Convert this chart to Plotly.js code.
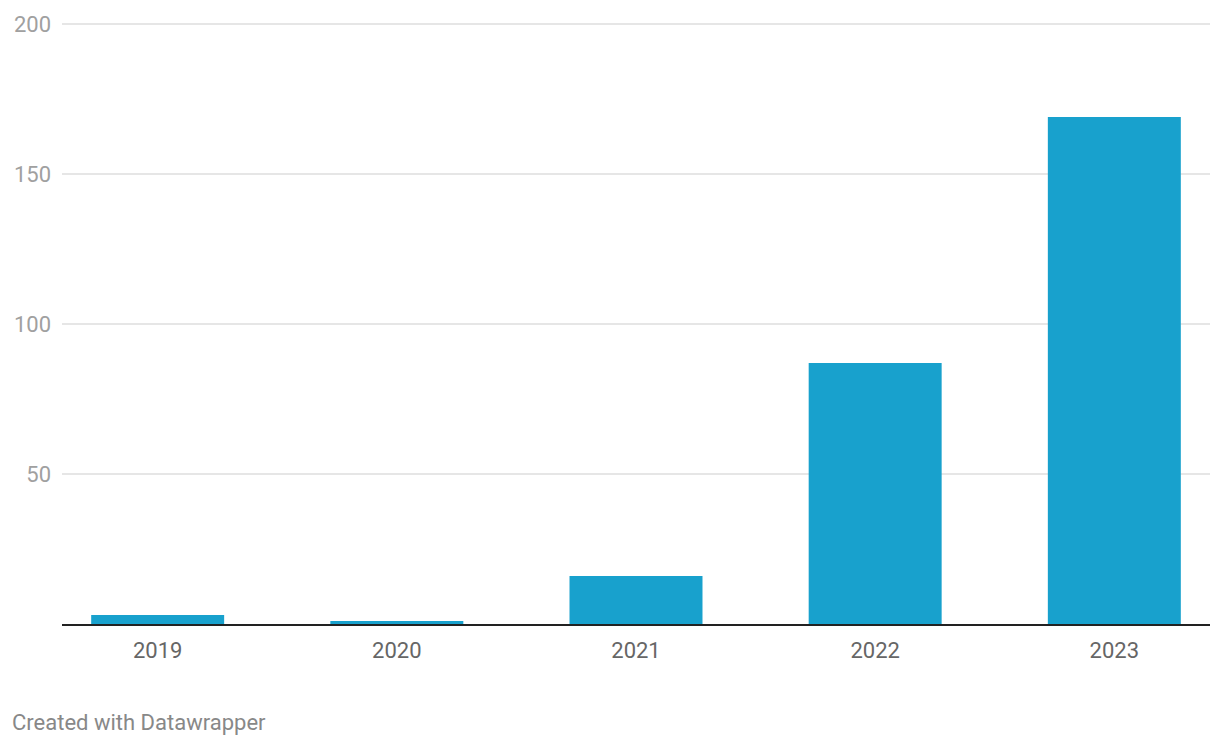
<!DOCTYPE html>
<html>
<head>
<meta charset="utf-8">
<script src="https://cdn.plot.ly/plotly-3.0.1.min.js"></script>
<style>
  html, body { margin: 0; padding: 0; background: #fff; }
  #chart { width: 1220px; height: 746px; }
</style>
</head>
<body>
<div id="chart"></div>
<script>
const years = ["2019", "2020", "2021", "2022", "2023"];
const values = [3, 1, 16, 87, 169];
const yTicks = [50, 100, 150, 200];
const footerText = "Created with Datawrapper";

const trace = {
  type: "bar",
  x: years,
  y: values,
  marker: { color: "#18a1cd" },
  hoverinfo: "x+y"
};

const layout = {
  width: 1220,
  height: 746,
  margin: { l: 62, r: 10, t: 21, b: 122 },
  paper_bgcolor: "#ffffff",
  plot_bgcolor: "#ffffff",
  font: { family: "Roboto, sans-serif" },
  bargap: 0.444,
  showlegend: false,
  xaxis: {
    type: "category",
    range: [-0.4, 4.4],
    showgrid: false,
    zeroline: false,
    showline: true,
    linecolor: "#222222",
    linewidth: 2,
    ticks: "",
    tickfont: { size: 22, color: "#666666", family: "Roboto, sans-serif" },
    ticklabelstandoff: 6,
    fixedrange: true
  },
  yaxis: {
    range: [0, 201],
    tickvals: yTicks,
    ticktext: yTicks.map(String),
    showgrid: true,
    gridcolor: "#e6e6e6",
    gridwidth: 2,
    zeroline: false,
    showline: false,
    ticks: "",
    tickfont: { size: 22, color: "#a0a0a0", family: "Roboto, sans-serif" },
    ticklabelstandoff: 10,
    fixedrange: true
  },
  annotations: [{
    text: footerText,
    xref: "paper", yref: "paper",
    x: 0, y: 0,
    xanchor: "left", yanchor: "middle",
    xshift: -52, yshift: -98,
    showarrow: false,
    font: { size: 22, color: "#888888", family: "Roboto, sans-serif" }
  }]
};

Plotly.newPlot("chart", [trace], layout, { displayModeBar: false, staticPlot: true });
</script>
</body>
</html>
